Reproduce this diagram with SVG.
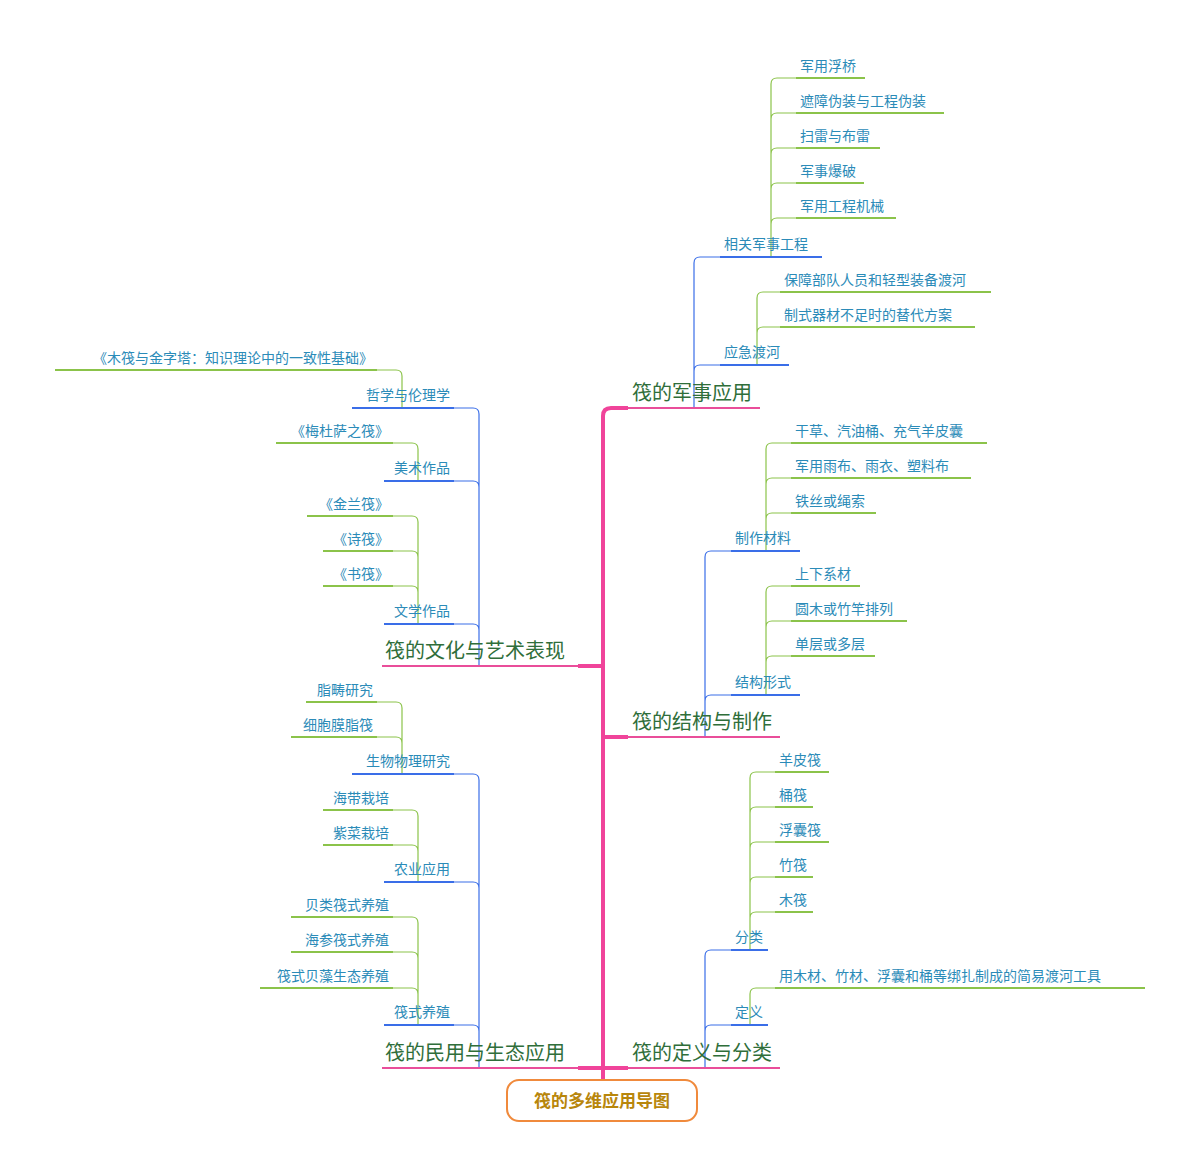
<svg xmlns="http://www.w3.org/2000/svg" width="1200" height="1176" viewBox="0 0 1200 1176">
<style>
text{font-family:"Liberation Sans","Noto Sans CJK SC",sans-serif}
.t{font-size:14px;fill:#2b8bb8}
.l{font-size:14px;fill:#2b8bb8;text-anchor:end}
.t1{font-size:20px;fill:#2f6e3a}
.l1{font-size:20px;fill:#2f6e3a;text-anchor:end}
.u1{stroke:#e94e9a;stroke-width:2;fill:none}
.u2{stroke:#3a6ee8;stroke-width:2;fill:none}
.u3{stroke:#8bc34a;stroke-width:2;fill:none}
.c2{stroke:#3a6ee8;stroke-width:1.2;fill:none}
.c3{stroke:#8bc34a;stroke-width:1.2;fill:none}
.tr{stroke:#f0449a;stroke-width:4;fill:none}
</style>
<rect width="1200" height="1176" fill="#fff"/>
<g id="connectors">
<path class="tr" d="M603,1080 L603,416 Q603,408 611,408 L628,408 M603,737 L628,737 M578,666 L603,666 M578,1068 L628,1068"/>
<!-- military -->
<path class="c2" d="M694,408 L694,263 Q694,257 700,257 L720,257 M694,371 Q694,365 700,365 L720,365"/>
<path class="c3" d="M771,257 L771,84 Q771,78 777,78 L796,78 M771,119 Q771,113 777,113 L796,113 M771,154 Q771,148 777,148 L796,148 M771,189 Q771,183 777,183 L796,183 M771,224 Q771,218 777,218 L796,218"/>
<path class="c3" d="M757,365 L757,298 Q757,292 763,292 L780,292 M757,333 Q757,327 763,327 L780,327"/>
<!-- structure -->
<path class="c2" d="M705,737 L705,557 Q705,551 711,551 L731,551 M705,701 Q705,695 711,695 L731,695"/>
<path class="c3" d="M766,551 L766,449 Q766,443 772,443 L791,443 M766,484 Q766,478 772,478 L791,478 M766,519 Q766,513 772,513 L791,513"/>
<path class="c3" d="M766,695 L766,592 Q766,586 772,586 L791,586 M766,627 Q766,621 772,621 L791,621 M766,662 Q766,656 772,656 L791,656"/>
<!-- definition -->
<path class="c2" d="M705,1068 L705,956 Q705,950 711,950 L731,950 M705,1031 Q705,1025 711,1025 L731,1025"/>
<path class="c3" d="M750,950 L750,778 Q750,772 756,772 L775,772 M750,813 Q750,807 756,807 L775,807 M750,848 Q750,842 756,842 L775,842 M750,883 Q750,877 756,877 L775,877 M750,918 Q750,912 756,912 L775,912"/>
<path class="c3" d="M750,1025 L750,994 Q750,988 756,988 L775,988"/>
<!-- culture -->
<path class="c2" d="M479,666 L479,414 Q479,408 473,408 L454,408 M479,487 Q479,481 473,481 L454,481 M479,630 Q479,624 473,624 L454,624"/>
<path class="c3" d="M402,408 L402,376 Q402,370 396,370 L377,370"/>
<path class="c3" d="M418,481 L418,449 Q418,443 412,443 L393,443"/>
<path class="c3" d="M418,624 L418,522 Q418,516 412,516 L393,516 M418,557 Q418,551 412,551 L393,551 M418,592 Q418,586 412,586 L393,586"/>
<!-- civil -->
<path class="c2" d="M479,1068 L479,780 Q479,774 473,774 L454,774 M479,888 Q479,882 473,882 L454,882 M479,1031 Q479,1025 473,1025 L454,1025"/>
<path class="c3" d="M402,774 L402,708 Q402,702 396,702 L377,702 M402,743 Q402,737 396,737 L377,737"/>
<path class="c3" d="M418,882 L418,816 Q418,810 412,810 L393,810 M418,851 Q418,845 412,845 L393,845"/>
<path class="c3" d="M418,1025 L418,923 Q418,917 412,917 L393,917 M418,958 Q418,952 412,952 L393,952 M418,994 Q418,988 412,988 L393,988"/>
</g>
<g id="root"><rect x="507" y="1080" width="190" height="41" rx="12" fill="#fff" stroke="#f08a3c" stroke-width="2"/><text x="602" y="1107" text-anchor="middle" font-size="17" font-weight="bold" fill="#b8860b">筏的多维应用导图</text></g>
<g id="military"><path class="u1" d="M628,408 L760,408"/><text class="t1" x="632" y="400">筏的军事应用</text></g>
<g id="mil-eng"><path class="u2" d="M720,257 L822,257"/><text class="t" x="724" y="249">相关军事工程</text></g>
<g id="m1"><path class="u3" d="M796,78 L865,78"/><text class="t" x="800" y="71">军用浮桥</text></g>
<g id="m2"><path class="u3" d="M796,113 L944,113"/><text class="t" x="800" y="106">遮障伪装与工程伪装</text></g>
<g id="m3"><path class="u3" d="M796,148 L880,148"/><text class="t" x="800" y="141">扫雷与布雷</text></g>
<g id="m4"><path class="u3" d="M796,183 L864,183"/><text class="t" x="800" y="176">军事爆破</text></g>
<g id="m5"><path class="u3" d="M796,218 L896,218"/><text class="t" x="800" y="211">军用工程机械</text></g>
<g id="mil-cross"><path class="u2" d="M720,365 L789,365"/><text class="t" x="724" y="357">应急渡河</text></g>
<g id="m6"><path class="u3" d="M780,292 L991,292"/><text class="t" x="784" y="285">保障部队人员和轻型装备渡河</text></g>
<g id="m7"><path class="u3" d="M780,327 L975,327"/><text class="t" x="784" y="320">制式器材不足时的替代方案</text></g>
<g id="structure"><path class="u1" d="M628,737 L780,737"/><text class="t1" x="632" y="729">筏的结构与制作</text></g>
<g id="materials"><path class="u2" d="M731,551 L800,551"/><text class="t" x="735" y="543">制作材料</text></g>
<g id="s1"><path class="u3" d="M791,443 L987,443"/><text class="t" x="795" y="436">干草、汽油桶、充气羊皮囊</text></g>
<g id="s2"><path class="u3" d="M791,478 L971,478"/><text class="t" x="795" y="471">军用雨布、雨衣、塑料布</text></g>
<g id="s3"><path class="u3" d="M791,513 L876,513"/><text class="t" x="795" y="506">铁丝或绳索</text></g>
<g id="form"><path class="u2" d="M731,695 L800,695"/><text class="t" x="735" y="687">结构形式</text></g>
<g id="s4"><path class="u3" d="M791,586 L860,586"/><text class="t" x="795" y="579">上下系材</text></g>
<g id="s5"><path class="u3" d="M791,621 L907,621"/><text class="t" x="795" y="614">圆木或竹竿排列</text></g>
<g id="s6"><path class="u3" d="M791,656 L875,656"/><text class="t" x="795" y="649">单层或多层</text></g>
<g id="definition"><path class="u1" d="M628,1068 L780,1068"/><text class="t1" x="632" y="1060">筏的定义与分类</text></g>
<g id="class"><path class="u2" d="M731,950 L768,950"/><text class="t" x="735" y="942">分类</text></g>
<g id="d1"><path class="u3" d="M775,772 L829,772"/><text class="t" x="779" y="765">羊皮筏</text></g>
<g id="d2"><path class="u3" d="M775,807 L813,807"/><text class="t" x="779" y="800">桶筏</text></g>
<g id="d3"><path class="u3" d="M775,842 L829,842"/><text class="t" x="779" y="835">浮囊筏</text></g>
<g id="d4"><path class="u3" d="M775,877 L813,877"/><text class="t" x="779" y="870">竹筏</text></g>
<g id="d5"><path class="u3" d="M775,912 L813,912"/><text class="t" x="779" y="905">木筏</text></g>
<g id="def"><path class="u2" d="M731,1025 L768,1025"/><text class="t" x="735" y="1017">定义</text></g>
<g id="d6"><path class="u3" d="M775,988 L1145,988"/><text class="t" x="779" y="981">用木材、竹材、浮囊和桶等绑扎制成的简易渡河工具</text></g>
<g id="culture"><path class="u1" d="M382,666 L578,666"/><text class="t1" x="385" y="658">筏的文化与艺术表现</text></g>
<g id="philo"><path class="u2" d="M352,408 L454,408"/><text class="l" x="450" y="400">哲学与伦理学</text></g>
<g id="c1"><path class="u3" d="M55,370 L377,370"/><text class="l" x="373" y="363">《木筏与金字塔：知识理论中的一致性基础》</text></g>
<g id="art"><path class="u2" d="M384,481 L454,481"/><text class="l" x="450" y="473">美术作品</text></g>
<g id="c2"><path class="u3" d="M276,443 L393,443"/><text class="l" x="389" y="436">《梅杜萨之筏》</text></g>
<g id="lit"><path class="u2" d="M384,624 L454,624"/><text class="l" x="450" y="616">文学作品</text></g>
<g id="c3"><path class="u3" d="M307,516 L393,516"/><text class="l" x="389" y="509">《金兰筏》</text></g>
<g id="c4"><path class="u3" d="M323,551 L393,551"/><text class="l" x="389" y="544">《诗筏》</text></g>
<g id="c5"><path class="u3" d="M323,586 L393,586"/><text class="l" x="389" y="579">《书筏》</text></g>
<g id="civil"><path class="u1" d="M382,1068 L578,1068"/><text class="t1" x="385" y="1060">筏的民用与生态应用</text></g>
<g id="bio"><path class="u2" d="M352,774 L454,774"/><text class="l" x="450" y="766">生物物理研究</text></g>
<g id="e1"><path class="u3" d="M306,702 L377,702"/><text class="l" x="373" y="695">脂畴研究</text></g>
<g id="e2"><path class="u3" d="M291,737 L377,737"/><text class="l" x="373" y="730">细胞膜脂筏</text></g>
<g id="agri"><path class="u2" d="M384,882 L454,882"/><text class="l" x="450" y="874">农业应用</text></g>
<g id="e3"><path class="u3" d="M323,810 L393,810"/><text class="l" x="389" y="803">海带栽培</text></g>
<g id="e4"><path class="u3" d="M323,845 L393,845"/><text class="l" x="389" y="838">紫菜栽培</text></g>
<g id="aqua"><path class="u2" d="M384,1025 L454,1025"/><text class="l" x="450" y="1017">筏式养殖</text></g>
<g id="e5"><path class="u3" d="M291,917 L393,917"/><text class="l" x="389" y="910">贝类筏式养殖</text></g>
<g id="e6"><path class="u3" d="M291,952 L393,952"/><text class="l" x="389" y="945">海参筏式养殖</text></g>
<g id="e7"><path class="u3" d="M260,988 L393,988"/><text class="l" x="389" y="981">筏式贝藻生态养殖</text></g>
</svg>
